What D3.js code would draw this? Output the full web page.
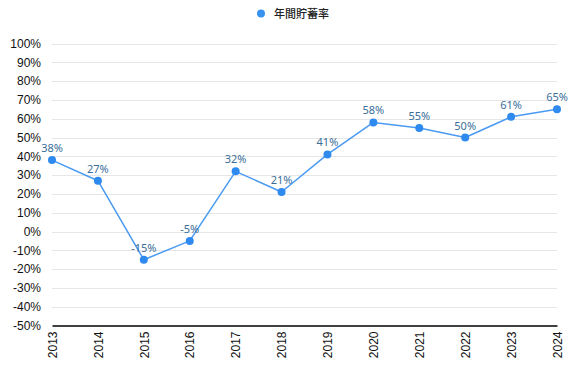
<!DOCTYPE html>
<html>
<head>
<meta charset="utf-8">
<script src="https://cdn.jsdelivr.net/npm/d3@7"></script>
<style>
  html, body { margin: 0; padding: 0; background: #fff; }
</style>
</head>
<body>
<script>
const years = ["2013", "2014", "2015", "2016", "2017", "2018", "2019", "2020", "2021", "2022", "2023", "2024"];
const savingsRate = [38, 27, -15, -5, 32, 21, 41, 58, 55, 50, 61, 65];
const yTicks = [100, 90, 80, 70, 60, 50, 40, 30, 20, 10, 0, -10, -20, -30, -40, -50];
const seriesName = "年間貯蓄率";

const width = 586, height = 375;
const margin = {top: 43.5, right: 29, bottom: 49.5, left: 52};

const svg = d3.select("body").append("svg")
    .attr("width", width)
    .attr("height", height)
    .attr("viewBox", [0, 0, width, height]);

const x = d3.scalePoint()
    .domain(years)
    .range([margin.left, width - margin.right]);

const y = d3.scaleLinear()
    .domain([-50, 100])
    .range([height - margin.bottom, margin.top]);

// grid
svg.append("g")
    .attr("stroke", "#e6e6e6")
    .attr("stroke-width", 1)
  .selectAll("line")
  .data(yTicks.filter(d => d !== -50))
  .join("line")
    .attr("x1", margin.left)
    .attr("x2", width - margin.right)
    .attr("y1", d => Math.round(y(d)) + 0.5)
    .attr("y2", d => Math.round(y(d)) + 0.5);

// y axis
svg.append("g")
    .attr("transform", `translate(${margin.left},0)`)
    .call(d3.axisLeft(y).tickValues(yTicks).tickFormat(d => d + "%").tickSize(0).tickPadding(11))
    .call(g => g.select(".domain").remove())
    .call(g => g.selectAll("text")
        .attr("font-family", "'Liberation Sans', Arial, sans-serif")
        .attr("font-size", 12)
        .attr("fill", "#111"));

// x axis
svg.append("g")
    .attr("transform", `translate(0,${y(-50)})`)
    .call(d3.axisBottom(x).tickSize(0).tickPadding(6))
    .call(g => g.select(".domain").attr("stroke", "#000").attr("stroke-width", 1.5))
    .call(g => g.selectAll("text")
        .attr("font-family", "'Liberation Sans', Arial, sans-serif")
        .attr("font-size", 12)
        .attr("fill", "#111")
        .attr("text-anchor", "end")
        .attr("transform", "rotate(-90)")
        .attr("x", -6)
        .attr("y", 0)
        .attr("dy", "0.35em"));

const data = years.map((yr, i) => ({year: yr, value: savingsRate[i]}));

const line = d3.line()
    .x(d => x(d.year))
    .y(d => y(d.value));

svg.append("path")
    .datum(data)
    .attr("fill", "none")
    .attr("stroke", "#4a9af2")
    .attr("stroke-width", 1.5)
    .attr("stroke-linejoin", "round")
    .attr("d", line);

svg.append("g")
    .attr("fill", "#2f8af0")
  .selectAll("circle")
  .data(data)
  .join("circle")
    .attr("cx", d => x(d.year))
    .attr("cy", d => y(d.value))
    .attr("r", 4);

svg.append("g")
    .attr("font-family", "'Noto Sans', sans-serif")
    .attr("font-size", 11)
    .attr("fill", "#3a6e99")
    .attr("text-anchor", "middle")
  .selectAll("text")
  .data(data)
  .join("text")
    .attr("x", d => x(d.year))
    .attr("y", d => y(d.value) - 8)
    .text(d => d.value + "%");

// legend
const legend = svg.append("g");
legend.append("circle")
    .attr("cx", 261)
    .attr("cy", 13.5)
    .attr("r", 4)
    .attr("fill", "#3a92f0");
legend.append("text")
    .attr("x", 274)
    .attr("y", 17.5)
    .attr("font-family", "'Noto Sans CJK JP', sans-serif")
    .attr("font-size", 11)
    .attr("font-weight", 500)
    .attr("fill", "#222")
    .text(seriesName);
</script>
</body>
</html>
